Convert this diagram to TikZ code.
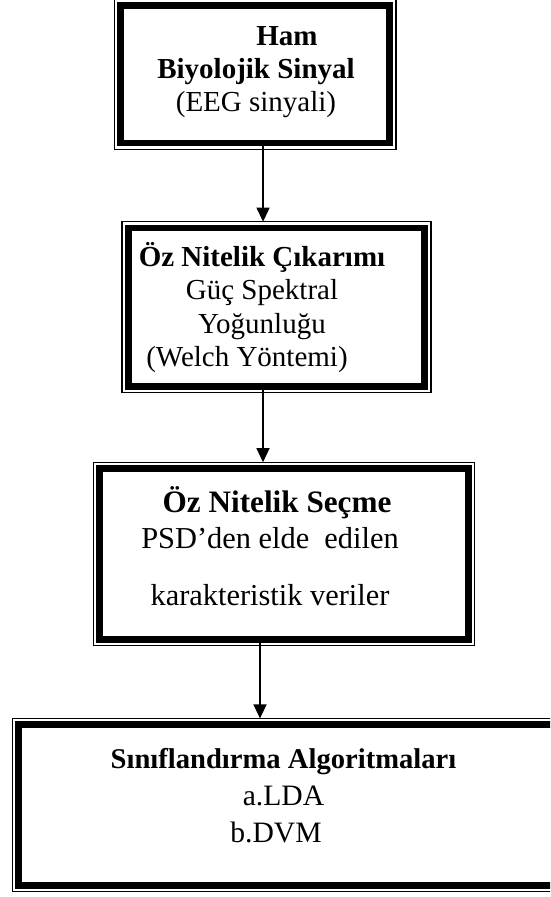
\documentclass[tikz,border=0pt]{standalone}
\usepackage{fontspec}
\setmainfont{Liberation Serif}
\usepackage{tikz}
\usetikzlibrary{calc, arrows.meta, positioning}
\tikzset{
    frame/.style = {draw, line width=3.4pt, outer sep=0pt, inner sep=0pt}, % thick inner border of a box
    rim/.style = {draw, line width=0.65pt}, % thin outer border
    txt/.style = {align=center, inner sep=0pt, anchor=base, font=\fontsize{14.5}{16.7}\selectfont},
    arr/.style = {-{Triangle[width=6.5pt,length=7pt]}, line width=0.65pt, shorten >=3.15pt}
}
\newcommand{\rimbox}[1]{\draw[rim] ([shift={(-3.15pt,3.15pt)}]#1.north west) rectangle ([shift={(3.15pt,-3.15pt)}]#1.south east);}

\begin{document}
\begin{tikzpicture}[x=0.5pt, y=-0.5pt]
    \useasboundingbox (0,0) rectangle (550,897);
    \clip (0,0) rectangle (550,897);

    \node [frame, minimum width=134.45pt, minimum height=68.75pt] (ham) at (255.25,74.25) {};
    \node [frame, minimum width=148.2pt, minimum height=79.25pt] (ozcik) at (276.5,307.25) {};
    \node [frame, minimum width=184.5pt, minimum height=85.4pt] (ozsec) at (284,553.9) {};
    \node [frame, minimum width=270.75pt, minimum height=80.4pt] (sinif) at (289.25,805.1) {};
    \rimbox{ham}
    \rimbox{ozcik}
    \rimbox{ozsec}
    \rimbox{sinif}

    % base of a multi-line node = baseline of its last line
    \node [txt] (hamtext) at (256,112) {\hspace*{31pt}\textbf{Ham}\\ \textbf{Biyolojik Sinyal}\\ (EEG sinyali)};
    \node [txt] (ozciktext) at (262,366.7) {\textbf{Öz Nitelik Çıkarımı}\\ Güç Spektral\\ Yoğunluğu\\ (Welch Yöntemi)\hspace*{15pt}};
    \node [txt, font=\fontsize{15.2}{18}\selectfont] (ozsectext) at (270,605) {\hspace*{7pt}{\fontsize{15.6}{18}\selectfont\textbf{Öz Nitelik Seçme}}\\ PSD’den elde\ \ edilen\\[10.5pt] karakteristik veriler};
    \node [txt, font=\fontsize{14.8}{18.5}\selectfont] (siniftext) at (283.5,842) {{\fontsize{14.3}{18.5}\selectfont\textbf{Sınıflandırma Algoritmaları}}\\ a.LDA\hspace*{12.5pt}\\ b.DVM\hspace*{7.5pt}};

    \draw [arr] ([xshift=3.9pt]ham.south) -- ([xshift=3.9pt]ham.south |- ozcik.north);
    \draw [arr] ([xshift=-6.75pt]ozcik.south) -- ([xshift=-6.75pt]ozcik.south |- ozsec.north);
    \draw [arr] ([xshift=-12pt]ozsec.south) -- ([xshift=-12pt]ozsec.south |- sinif.north);
\end{tikzpicture}
\end{document}
